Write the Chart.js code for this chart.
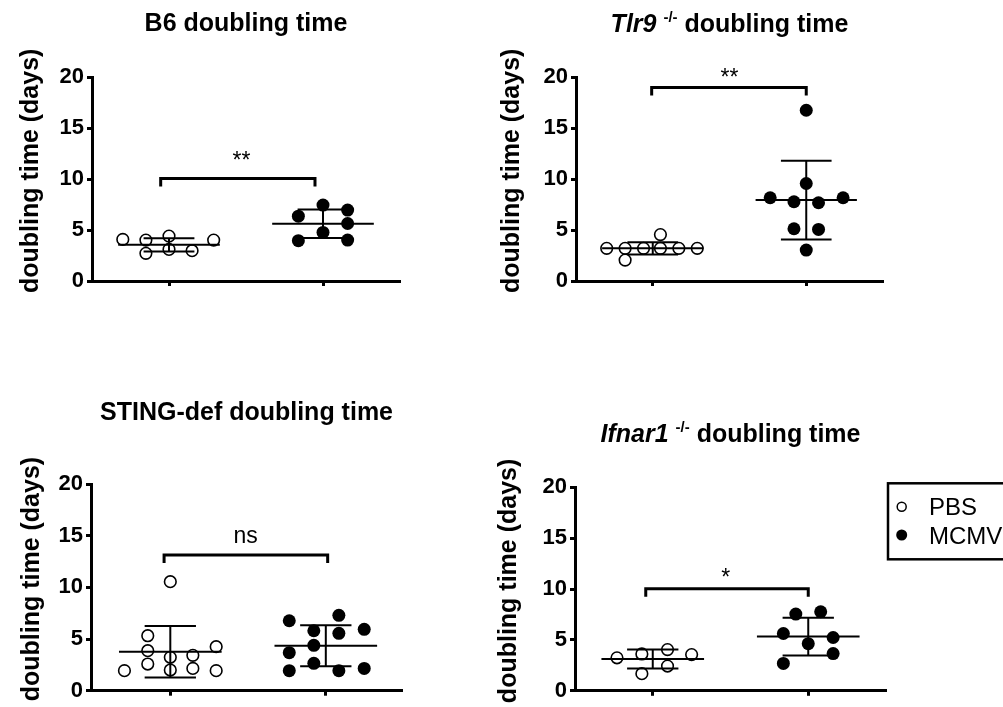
<!DOCTYPE html>
<html>
<head>
<meta charset="utf-8">
<script src="https://cdn.jsdelivr.net/npm/chart.js@4.4.0/dist/chart.umd.min.js"></script>
<style>
html, body { margin: 0; padding: 0; background: #fff; width: 1003px; height: 707px; overflow: hidden; }
body { position: relative; }
canvas { position: absolute; }
</style>
</head>
<body>
<canvas id="c1"></canvas>
<canvas id="c2"></canvas>
<canvas id="c3"></canvas>
<canvas id="c4"></canvas>
<script>
// ---------------- DATA ----------------
const groups = ['PBS', 'MCMV'];
const yTicks = [0, 5, 10, 15, 20];
const yAxisTitle = 'doubling time (days)';
const titleB6 = [['B6 doubling time', 'n']];
const titleTlr9 = [['Tlr9', 'i'], [' ', 'n'], ['-/-', 's'], [' doubling time', 'n']];
const titleSting = [['STING-def doubling time', 'n']];
const titleIfnar1 = [['Ifnar1', 'i'], [' ', 'n'], ['-/-', 's'], [' doubling time', 'n']];

const b6PBS  = [4.08, 4.01, 2.71, 4.40, 3.10, 2.97, 4.01];
const b6MCMV = [6.36, 3.95, 7.44, 4.76, 6.95, 5.64, 4.01];
const b6Mean = [3.55, 5.61];
const b6SD   = [0.65, 1.40];

const tlr9PBS  = [3.2, 3.2, 2.05, 3.2, 3.2, 4.55, 3.2, 3.2];
const tlr9MCMV = [8.16, 7.77, 5.12, 16.74, 9.56, 3.03, 7.67, 5.06, 8.16];
const tlr9Mean = [3.2, 7.93];
const tlr9SD   = [0.6, 3.85];

const stingPBS  = [1.94, 5.32, 3.87, 2.58, 10.55, 3.23, 2.00, 3.42, 2.16, 4.26, 1.94];
const stingMCMV = [6.77, 3.68, 1.94, 5.80, 4.39, 2.65, 7.29, 5.55, 1.94, 5.94, 2.16];
const stingMean = [3.77, 4.35];
const stingSD   = [2.50, 1.98];

const ifnar1PBS  = [3.24, 3.62, 1.68, 4.05, 2.43, 3.56];
const ifnar1MCMV = [2.69, 5.63, 7.54, 4.63, 7.77, 5.24, 3.66];
const ifnar1Mean = [3.12, 5.33];
const ifnar1SD   = [0.93, 1.86];

const sigLabels   = ['**', '**', 'ns', '*'];
const sigBracketY = [10.05, 18.96, 13.13, 10.03];
const sigLabelY   = [12.3, 20.4, 14.9, 11.65];

// ---------------- LAYOUT (swarm offsets, positions, styles) ----------------
const b6PBSSwarm    = [-0.30, -0.15, -0.15, 0, 0, 0.15, 0.29];
const b6MCMVSwarm   = [-0.16, -0.16, 0, 0, 0.16, 0.16, 0.16];
const tlr9PBSSwarm  = [-0.30, -0.18, -0.18, -0.06, 0.05, 0.05, 0.17, 0.29];
const tlr9MCMVSwarm = [-0.235, -0.08, -0.08, 0, 0, 0, 0.08, 0.08, 0.24];
const stingPBSSwarm  = [-0.295, -0.145, -0.145, -0.145, 0, 0, 0, 0.145, 0.145, 0.295, 0.295];
const stingMCMVSwarm = [-0.235, -0.235, -0.235, -0.077, -0.077, -0.077, 0.084, 0.084, 0.084, 0.247, 0.247];
const ifnar1PBSSwarm  = [-0.23, -0.07, -0.07, 0.095, 0.095, 0.25];
const ifnar1MCMVSwarm = [-0.16, -0.16, -0.08, 0, 0.08, 0.16, 0.16];

const FONT = '"Liberation Sans", Arial, Helvetica, sans-serif';
Chart.defaults.font.family = FONT;
Chart.defaults.color = '#000';

const panels = [
  { id: 'c1', title: titleB6, pbs: b6PBS, mcmv: b6MCMV, pbsSw: b6PBSSwarm, mcmvSw: b6MCMVSwarm, mean: b6Mean, sd: b6SD, sig: 0,
    box: { left: 0, top: 0, w: 480, h: 330 }, area: { l: 92, t: 77, r: 400, b: 281 }, xr: [0.5, 2.5],
    titleGap: 46, yTitleX: 31, bracketX: [0.946, 1.948], labelX: 1.47 },
  { id: 'c2', title: titleTlr9, pbs: tlr9PBS, mcmv: tlr9MCMV, pbsSw: tlr9PBSSwarm, mcmvSw: tlr9MCMVSwarm, mean: tlr9Mean, sd: tlr9SD, sig: 1,
    box: { left: 480, top: 0, w: 480, h: 330 }, area: { l: 576, t: 77, r: 883, b: 281 }, xr: [0.5, 2.5],
    titleGap: 45.5, yTitleX: 32, bracketX: [0.993, 2.0], labelX: 1.5 },
  { id: 'c3', title: titleSting, pbs: stingPBS, mcmv: stingMCMV, pbsSw: stingPBSSwarm, mcmvSw: stingMCMVSwarm, mean: stingMean, sd: stingSD, sig: 2,
    box: { left: 0, top: 380, w: 480, h: 327 }, area: { l: 91, t: 484, r: 402, b: 690.7 }, xr: [0.49, 2.49],
    titleGap: 64, yTitleX: 32, bracketX: [0.96, 2.012], labelX: 1.485 },
  { id: 'c4', title: titleIfnar1, pbs: ifnar1PBS, mcmv: ifnar1MCMV, pbsSw: ifnar1PBSSwarm, mcmvSw: ifnar1MCMVSwarm, mean: ifnar1Mean, sd: ifnar1SD, sig: 3,
    box: { left: 480, top: 380, w: 523, h: 327 }, area: { l: 575, t: 487.3, r: 886, b: 693.3 }, xr: [0.5, 2.5],
    titleGap: 45.6, yTitleX: 29, bracketX: [0.955, 2.0], labelX: 1.47,
    legend: { x: 408, top: 103.3, bottom: 179.3, markerX: 421.7, rowY: [126.7, 155], textX: 449 } }
];

const decorPlugin = {
  id: 'decor',
  afterDatasetsDraw(chart) {
    const o = chart.options.plugins.decor;
    const ctx = chart.ctx, xs = chart.scales.x, ys = chart.scales.y;
    const line = (x1, y1, x2, y2) => { ctx.beginPath(); ctx.moveTo(x1, y1); ctx.lineTo(x2, y2); ctx.stroke(); };
    ctx.save();
    ctx.strokeStyle = '#000';
    ctx.lineWidth = 2;
    o.mean.forEach((m, i) => {
      const c = i + 1;
      const ym = ys.getPixelForValue(m);
      const yu = ys.getPixelForValue(m + o.sd[i]);
      const yl = ys.getPixelForValue(m - o.sd[i]);
      const xc = xs.getPixelForValue(c);
      line(xs.getPixelForValue(c - o.meanHalf), ym, xs.getPixelForValue(c + o.meanHalf), ym);
      line(xc, yu, xc, yl);
      line(xs.getPixelForValue(c - o.capHalf), yu, xs.getPixelForValue(c + o.capHalf), yu);
      line(xs.getPixelForValue(c - o.capHalf), yl, xs.getPixelForValue(c + o.capHalf), yl);
    });
    // significance bracket
    const yb = ys.getPixelForValue(o.bracketY);
    const x1 = xs.getPixelForValue(o.bracketX[0]);
    const x2 = xs.getPixelForValue(o.bracketX[1]);
    ctx.lineWidth = 3;
    ctx.lineJoin = 'miter';
    ctx.beginPath();
    ctx.moveTo(x1, yb + 8); ctx.lineTo(x1, yb); ctx.lineTo(x2, yb); ctx.lineTo(x2, yb + 8);
    ctx.stroke();
    ctx.font = '23px ' + FONT;
    ctx.fillStyle = '#000';
    ctx.textAlign = 'center';
    ctx.textBaseline = 'alphabetic';
    const mt = ctx.measureText(o.label);
    const yc = ys.getPixelForValue(o.labelY);
    ctx.fillText(o.label, xs.getPixelForValue(o.labelX), yc + (mt.actualBoundingBoxAscent - mt.actualBoundingBoxDescent) / 2);
    ctx.restore();
  },
  afterDraw(chart) {
    const o = chart.options.plugins.decor;
    const ctx = chart.ctx, ca = chart.chartArea;
    ctx.save();
    ctx.fillStyle = '#000';
    // title with mixed styles
    const fontFor = (s) => s === 'i' ? 'italic bold 25px ' + FONT : (s === 's' ? 'bold 15px ' + FONT : 'bold 25px ' + FONT);
    let total = 0;
    o.title.forEach(([t, s]) => { ctx.font = fontFor(s); total += ctx.measureText(t).width; });
    let x = (ca.left + ca.right) / 2 - total / 2;
    const base = ca.top - o.titleGap;
    ctx.textAlign = 'left';
    ctx.textBaseline = 'alphabetic';
    o.title.forEach(([t, s]) => {
      ctx.font = fontFor(s);
      ctx.fillText(t, x, s === 's' ? base - 10 : base);
      x += ctx.measureText(t).width;
    });
    // y axis title
    ctx.save();
    ctx.translate(o.yTitleX, ca.top + 0.46 * (ca.bottom - ca.top));
    ctx.rotate(-Math.PI / 2);
    ctx.font = 'bold 25px ' + FONT;
    ctx.textAlign = 'center';
    ctx.textBaseline = 'middle';
    ctx.fillText(o.yTitle, 0, 0);
    ctx.restore();
    // legend box
    if (o.legend) {
      const L = o.legend;
      ctx.strokeStyle = '#000';
      ctx.lineWidth = 2.5;
      ctx.strokeRect(L.x, L.top, chart.width - L.x + 10, L.bottom - L.top);
      chart.data.datasets.forEach((ds, i) => {
        const y = L.rowY[i];
        ctx.beginPath();
        if (i === 0) {
          ctx.arc(L.markerX, y, 4.5, 0, Math.PI * 2);
          ctx.lineWidth = 1.5;
          ctx.stroke();
        } else {
          ctx.arc(L.markerX, y, 5.5, 0, Math.PI * 2);
          ctx.fill();
        }
        ctx.font = '24px ' + FONT;
        ctx.textAlign = 'left';
        ctx.textBaseline = 'alphabetic';
        ctx.fillText(ds.label, L.textX, y + 8.5);
      });
    }
    ctx.restore();
  }
};

panels.forEach((p) => {
  const cv = document.getElementById(p.id);
  cv.width = p.box.w; cv.height = p.box.h;
  cv.style.left = p.box.left + 'px'; cv.style.top = p.box.top + 'px';
  cv.style.width = p.box.w + 'px'; cv.style.height = p.box.h + 'px';
  const toPts = (vals, sw, cat) => vals.map((v, i) => ({ x: cat + sw[i], y: v }));
  const axisGrid = { drawOnChartArea: false, drawTicks: true, tickLength: 5, tickWidth: 3, tickColor: '#000' };
  const axisBorder = { display: true, width: 3, color: '#000' };
  new Chart(cv, {
    type: 'scatter',
    data: {
      datasets: [
        { label: groups[0], data: toPts(p.pbs, p.pbsSw, 1), pointRadius: 5.8, pointHoverRadius: 5.8,
          pointBorderWidth: 1.6, pointBorderColor: '#000', pointBackgroundColor: 'rgba(0,0,0,0)', clip: false },
        { label: groups[1], data: toPts(p.mcmv, p.mcmvSw, 2), pointRadius: 6.5, pointHoverRadius: 6.5,
          pointBorderWidth: 0, pointBorderColor: '#000', pointBackgroundColor: '#000', clip: false }
      ]
    },
    options: {
      responsive: false, animation: false, devicePixelRatio: 1, events: [],
      layout: { padding: { top: p.area.t - p.box.top, right: p.box.left + p.box.w - p.area.r, bottom: 0, left: 0 } },
      scales: {
        x: {
          type: 'linear', min: p.xr[0], max: p.xr[1],
          afterBuildTicks: (s) => { s.ticks = [{ value: 1 }, { value: 2 }]; },
          afterFit: (s) => { s.height = p.box.top + p.box.h - p.area.b; },
          ticks: { display: false },
          grid: axisGrid, border: axisBorder
        },
        y: {
          type: 'linear', min: 0, max: 20,
          afterBuildTicks: (s) => { s.ticks = yTicks.map((v) => ({ value: v })); },
          afterFit: (s) => { s.width = p.area.l - p.box.left; },
          ticks: { color: '#000', padding: 3, font: { family: FONT, size: 22, weight: 'bold' } },
          grid: axisGrid, border: axisBorder
        }
      },
      plugins: {
        legend: { display: false },
        tooltip: { enabled: false },
        decor: {
          title: p.title, titleGap: p.titleGap, yTitle: yAxisTitle, yTitleX: p.yTitleX,
          mean: p.mean, sd: p.sd, meanHalf: 0.33, capHalf: 0.165,
          bracketY: sigBracketY[p.sig], bracketX: p.bracketX, label: sigLabels[p.sig],
          labelY: sigLabelY[p.sig], labelX: p.labelX, legend: p.legend
        }
      }
    },
    plugins: [decorPlugin]
  });
});
</script>
</body>
</html>
